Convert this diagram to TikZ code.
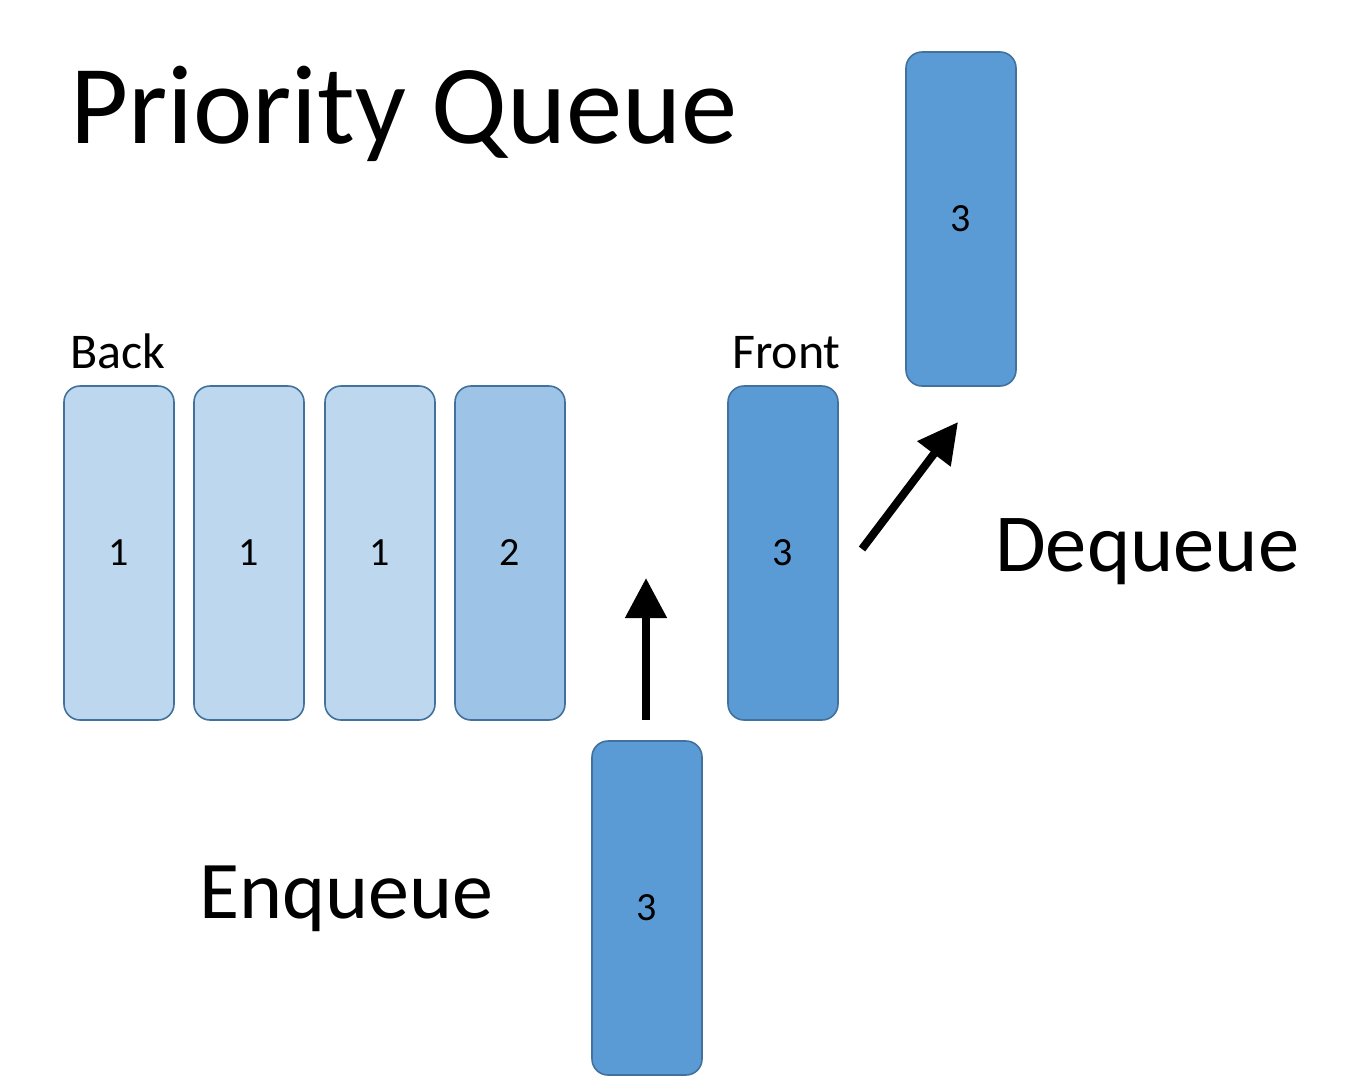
\documentclass[tikz,border=0pt]{standalone}
\usepackage{fontspec}
\setmainfont{Carlito}
\usetikzlibrary{arrows.meta}
\definecolor{lightq}{HTML}{BDD7EE}
\definecolor{midq}{HTML}{9DC3E6}
\definecolor{darkq}{HTML}{5B9BD5}
\definecolor{edgeq}{HTML}{41719C}
\tikzset{
  qbox/.style={draw=edgeq, line width=1.6pt, rounded corners=16pt, minimum width=110pt, minimum height=334pt, inner sep=0pt, font=\fontsize{40}{48}\selectfont},
  lbl/.style={anchor=base west, inner sep=0pt},
  bigarrow/.style={line width=8pt, -{Triangle[width=40pt,length=40pt]}}
}
\begin{document}
\begin{tikzpicture}[x=1pt,y=-1pt]
\useasboundingbox (0,0) rectangle (1350,1077);
\node[lbl, font=\fontsize{112.5}{130}\selectfont] (title) at (70,143) {Priority Queue};
\node[lbl, font=\fontsize{50}{60}\selectfont] (back) at (70,368) {Back};
\node[lbl, font=\fontsize{50}{60}\selectfont] (front) at (732,368) {Front};
\node[lbl, font=\fontsize{82}{90}\selectfont] (enq) at (199,918) {Enqueue};
\node[lbl, font=\fontsize{82.5}{90}\selectfont] (deq) at (995,571) {Dequeue};
\node[qbox, fill=lightq] (b1) at (119,553) {1};
\node[qbox, fill=lightq] (b2) at (249,553) {1};
\node[qbox, fill=lightq] (b3) at (380,553) {1};
\node[qbox, fill=midq] (b4) at (510,553) {2};
\node[qbox, fill=darkq] (bf) at (783,553) {3};
\node[qbox, fill=darkq] (be) at (647,908) {3};
\node[qbox, fill=darkq] (bd) at (961,219) {3};
\coordinate (ea) at (646,720);
\coordinate (eb) at (646,578);
\coordinate (da) at (862,549);
\coordinate (db) at (958,422);
\draw[bigarrow] (ea) -- (eb);
\draw[bigarrow] (da) -- (db);
\end{tikzpicture}
\end{document}
